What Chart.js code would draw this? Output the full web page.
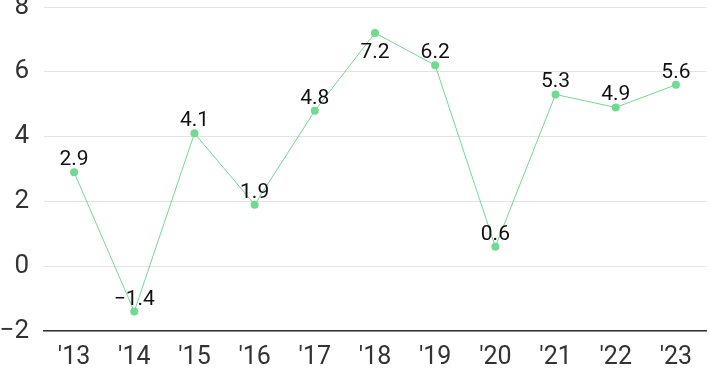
<!DOCTYPE html>
<html>
<head>
<meta charset="utf-8">
<script src="https://cdn.jsdelivr.net/npm/chart.js@4"></script>
<style>
  html, body { margin: 0; padding: 0; background: #fff; }
  #wrap { width: 710px; height: 371px; }
</style>
</head>
<body>
<div id="wrap"><canvas id="growthChart"></canvas></div>
<script>
const years = ["'13", "'14", "'15", "'16", "'17", "'18", "'19", "'20", "'21", "'22", "'23"];
const growth = [2.9, -1.4, 4.1, 1.9, 4.8, 7.2, 6.2, 0.6, 5.3, 4.9, 5.6];
const labelsBelow = ["'18"];
const yMin = -2, yMax = 8, yStep = 2;

const fmt = v => (v < 0 ? '\u2212' : '') + Math.abs(v);

const pointLabels = {
    id: 'pointLabels',
    afterDatasetsDraw(chart) {
        const ctx = chart.ctx;
        const meta = chart.getDatasetMeta(0);
        ctx.save();
        ctx.font = '21px Roboto';
        ctx.fillStyle = '#111';
        ctx.textAlign = 'center';
        ctx.textBaseline = 'alphabetic';
        meta.data.forEach((pt, i) => {
            const below = labelsBelow.includes(years[i]);
            const txt = (growth[i] < 0 ? '\u2212' : '') + Math.abs(growth[i]).toFixed(1);
            ctx.fillText(txt, pt.x, below ? pt.y + 25 : pt.y - 7);
        });
        ctx.restore();
    }
};

document.addEventListener("DOMContentLoaded", () => {
    const ctx = document.getElementById('growthChart').getContext('2d');
    new Chart(ctx, {
        type: 'line',
        data: {
            labels: years,
            datasets: [{
                data: growth,
                borderColor: '#6ddc8e',
                borderWidth: 1,
                pointRadius: 4,
                pointBackgroundColor: '#6ddc8e',
                pointBorderWidth: 0,
                tension: 0
            }]
        },
        options: {
            responsive: true,
            maintainAspectRatio: false,
            animation: false,
            layout: { padding: { top: 7, right: 0, left: 0, bottom: 0 } },
            plugins: { legend: { display: false }, tooltip: { enabled: false } },
            scales: {
                x: {
                    offset: true,
                    grid: { display: false, drawTicks: false },
                    border: { color: '#333', width: 1.5 },
                    ticks: { color: '#333', font: { family: 'Roboto', size: 25, lineHeight: 1 }, padding: 14 },
                    afterFit: s => { s.height = 40; s.paddingLeft = 0; s.paddingRight = 0; }
                },
                y: {
                    min: yMin,
                    max: yMax,
                    grid: { color: '#e3e3e3', drawTicks: false },
                    border: { display: false },
                    ticks: { stepSize: yStep, color: '#333', font: { family: 'Roboto', size: 26, lineHeight: 1 }, padding: 15,
                        callback: fmt },
                    afterFit: s => { s.width = 44; s.paddingTop = 0; s.paddingBottom = 0; }
                }
            }
        },
        plugins: [pointLabels]
    });
});
</script>
</body>
</html>
